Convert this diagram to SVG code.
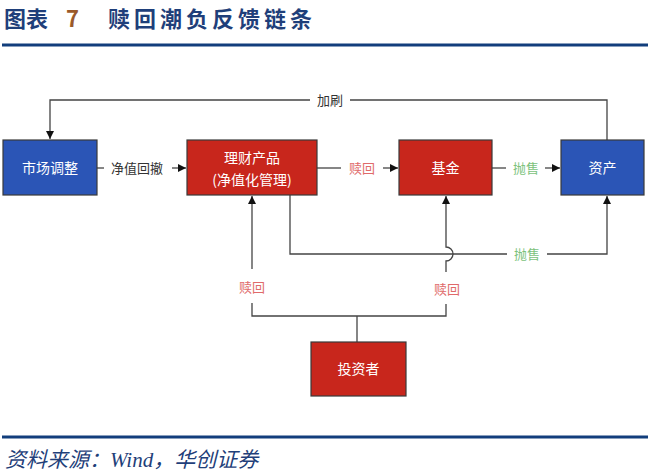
<svg xmlns="http://www.w3.org/2000/svg" width="650" height="476" viewBox="0 0 650 476">
<style>
.title{font-family:"Noto Sans CJK SC","Noto Sans",sans-serif;font-size:22px;font-weight:bold;fill:#1F3F7A}
.src{font-family:"Liberation Serif","Noto Sans CJK SC",serif;font-size:21px;font-style:italic;fill:#1F3F7A}
.box{stroke:#3a3a3a;stroke-width:1.2}
.blue{fill:#2B55B6}
.red{fill:#C8261C}
.nt{font-family:"Noto Sans CJK SC","Noto Sans",sans-serif;font-size:14px;fill:#ffffff;text-anchor:middle}
.ln{fill:none;stroke:#444;stroke-width:1.3}
.lb{font-family:"Noto Sans CJK SC","Noto Sans",sans-serif;font-size:13px;text-anchor:middle}
.k{fill:#333}
.r{fill:#E06A6A}
.g{fill:#7CC27C}
</style>
<defs>
<marker id="ah" viewBox="0 0 10 10" refX="10" refY="5" markerWidth="8" markerHeight="8" markerUnits="userSpaceOnUse" orient="auto">
<path d="M0,0 L10,5 L0,10 z" fill="#111"/>
</marker>
</defs>
<rect width="650" height="476" fill="#ffffff"/>
<text class="title" x="4" y="27">图表<tspan x="66" fill="#9A5A2A">7</tspan><tspan x="108" letter-spacing="4">赎回潮负反馈链条</tspan></text>
<rect x="2" y="43.5" width="646" height="3" fill="#123E7C"/>

<g id="connectors">
<polyline class="ln" points="607,140 607,100 350,100"/>
<polyline class="ln" points="310,100 50,100 50,139" marker-end="url(#ah)"/>
<text class="lb k" x="330" y="105">加刷</text>
<line class="ln" x1="97" y1="168" x2="104" y2="168"/>
<text class="lb k" x="137" y="173">净值回撤</text>
<line class="ln" x1="172" y1="168" x2="186" y2="168" marker-end="url(#ah)"/>
<line class="ln" x1="317" y1="168" x2="341" y2="168"/>
<text class="lb r" x="362" y="173">赎回</text>
<line class="ln" x1="383" y1="168" x2="398" y2="168" marker-end="url(#ah)"/>
<line class="ln" x1="492" y1="168" x2="506" y2="168"/>
<text class="lb g" x="526" y="173">抛售</text>
<line class="ln" x1="545" y1="168" x2="560" y2="168" marker-end="url(#ah)"/>
<polyline class="ln" points="290,195 290,254 507,254"/>
<text class="lb g" x="527" y="259">抛售</text>
<polyline class="ln" points="547,254 607,254 607,196" marker-end="url(#ah)"/>
<polyline class="ln" points="357,342 357,316"/>
<polyline class="ln" points="252,303 252,316 446,316 446,304"/>
<line class="ln" x1="252" y1="269" x2="252" y2="196" marker-end="url(#ah)"/>
<text class="lb r" x="252" y="292">赎回</text>
<path class="ln" d="M446,272 L446,261 A7,7 0 0 0 446,247 L446,196" marker-end="url(#ah)"/>
<text class="lb r" x="447" y="294">赎回</text>
</g>

<g id="node-market">
<rect class="box blue" x="3" y="140" width="94" height="55"/>
<text class="nt" x="50" y="173">市场调整</text>
</g>
<g id="node-wealth">
<rect class="box red" x="187" y="140" width="130" height="55"/>
<text class="nt" x="252" y="163">理财产品</text>
<text class="nt" x="252" y="185">(净值化管理)</text>
</g>
<g id="node-fund">
<rect class="box red" x="399" y="140" width="93" height="55"/>
<text class="nt" x="445.5" y="173">基金</text>
</g>
<g id="node-asset">
<rect class="box blue" x="561" y="140" width="83" height="55"/>
<text class="nt" x="602.5" y="173">资产</text>
</g>
<g id="node-investor">
<rect class="box red" x="311" y="342" width="95" height="54"/>
<text class="nt" x="358.5" y="374">投资者</text>
</g>

<rect x="2" y="435.5" width="646" height="3" fill="#123E7C"/>
<text class="src" x="5" y="467">资料来源：Wind，华创证券</text>
</svg>
